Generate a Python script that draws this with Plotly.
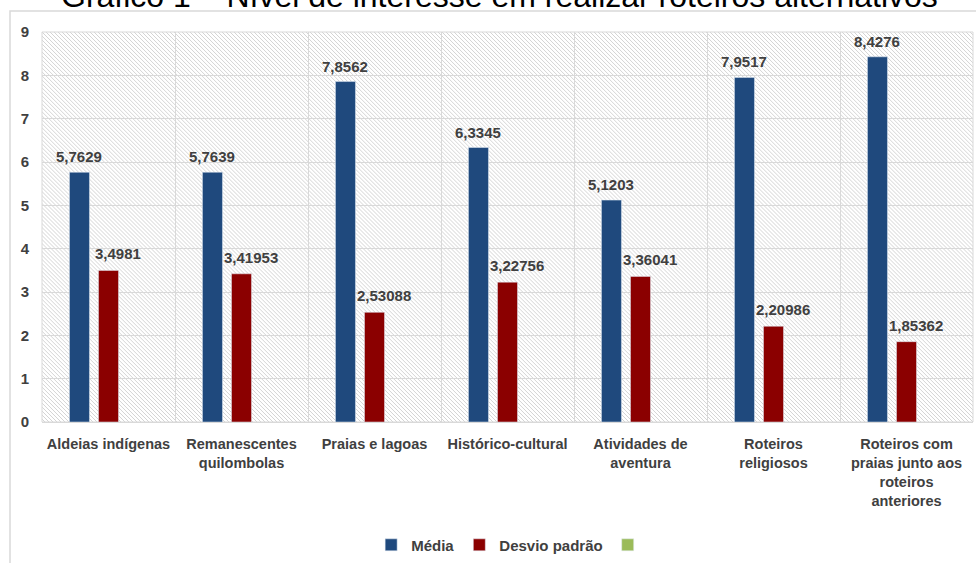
import base64
import plotly.graph_objects as go

categories = [
    "Aldeias indígenas",
    "Remanescentes<br>quilombolas",
    "Praias e lagoas",
    "Histórico-cultural",
    "Atividades de<br>aventura",
    "Roteiros<br>religiosos",
    "Roteiros com<br>praias junto aos<br>roteiros<br>anteriores",
]
media = [5.7629, 5.7639, 7.8562, 6.3345, 5.1203, 7.9517, 8.4276]
media_labels = ["5,7629", "5,7639", "7,8562", "6,3345", "5,1203", "7,9517", "8,4276"]
desvio = [3.4981, 3.41953, 2.53088, 3.22756, 3.36041, 2.20986, 1.85362]
desvio_labels = ["3,4981", "3,41953", "2,53088", "3,22756", "3,36041", "2,20986", "1,85362"]
third = [None] * 7

W, H = 976, 563
L, R, T, B = 42, 3, 32, 140
PW, PH = W - L - R, H - T - B
BARGAP = 0.345
SLOT = PW / len(categories) * (1 - BARGAP) / 3

FONT = "Liberation Sans, Arial, sans-serif"
TXT = "#404040"

# hatch background (diagonal lines) as SVG image
svg = f'''<svg xmlns="http://www.w3.org/2000/svg" width="{PW}" height="{PH}" viewBox="0 0 {PW} {PH}">
<defs><pattern id="p" patternUnits="userSpaceOnUse" width="4" height="4">
<path d="M-1,-1 L5,5 M-1,3 L1,5 M3,-1 L5,1" stroke="#d4d4d4" stroke-width="1"/>
</pattern></defs>
<rect width="{PW}" height="{PH}" fill="white"/>
<rect width="{PW}" height="{PH}" fill="url(#p)"/>
</svg>'''
uri = "data:image/svg+xml;base64," + base64.b64encode(svg.encode()).decode()

bold = dict(family=FONT, size=15, color=TXT, weight="bold")
tickbold = dict(family=FONT, size=14.5, color=TXT, weight="bold")

fig = go.Figure()
fig.add_trace(go.Bar(x=categories, y=media, name="Média", marker_color="#1F497D"))
fig.add_trace(go.Bar(x=categories, y=desvio, name="Desvio padrão", marker_color="#8B0000"))
fig.add_trace(go.Bar(x=categories, y=third, name="", marker_color="#9BBB59"))

annotations = [dict(text="Gráfico 1 – Nível de interesse em realizar roteiros alternativos",
                    xref="paper", yref="paper", x=(499 - L) / PW, y=1 + 16 / PH,
                    xanchor="center", yanchor="bottom", showarrow=False,
                    font=dict(family=FONT, size=32, color="#000000", weight="normal"))]
for c, v, t in zip(categories, media, media_labels):
    annotations.append(dict(x=c, y=v, text=t, xref="x", yref="y", showarrow=False,
                            xanchor="center", yanchor="bottom", xshift=-SLOT, yshift=5,
                            font=bold))
for c, v, t in zip(categories, desvio, desvio_labels):
    annotations.append(dict(x=c, y=v, text=t, xref="x", yref="y", showarrow=False,
                            xanchor="center", yanchor="bottom", xshift=9, yshift=6,
                            font=bold))

fig.update_layout(
    width=W, height=H,
    margin=dict(l=L, r=R, t=T, b=B),
    paper_bgcolor="white", plot_bgcolor="rgba(0,0,0,0)",
    barmode="group", bargap=BARGAP, bargroupgap=0.31,
    font=bold,
    showlegend=True,
    legend=dict(orientation="h", x=0.505, xanchor="center", y=-0.27, yanchor="top",
                font=bold, itemwidth=30, traceorder="normal"),
    images=[dict(source=uri, xref="paper", yref="paper", x=0, y=1, sizex=1, sizey=1,
                 xanchor="left", yanchor="top", sizing="stretch", layer="below")],
    shapes=[
        dict(type="rect", xref="paper", yref="paper", x0=0, x1=1, y0=0, y1=1,
             line=dict(color="#d9d9d9", width=1), layer="below"),
        dict(type="rect", xref="paper", yref="paper", x0=(10 - L) / PW, x1=1.2,
             y0=-0.6, y1=1 + (T - 11) / PH, line=dict(color="#d9d9d9", width=1.5)),
    ],
    annotations=annotations,
)
fig.update_xaxes(
    type="category", tickson="boundaries", showgrid=True, gridcolor="#d9d9d9",
    showline=True, linecolor="#d9d9d9", ticks="", ticklabelstandoff=9,
    tickangle=0, automargin=False, tickfont=tickbold,
)
fig.update_yaxes(
    range=[0, 9], dtick=1, showgrid=True, gridcolor="#d9d9d9", zeroline=False,
    ticks="", ticklabelstandoff=12, automargin=False, tickfont=bold,
)

fig.write_html("out.html")
